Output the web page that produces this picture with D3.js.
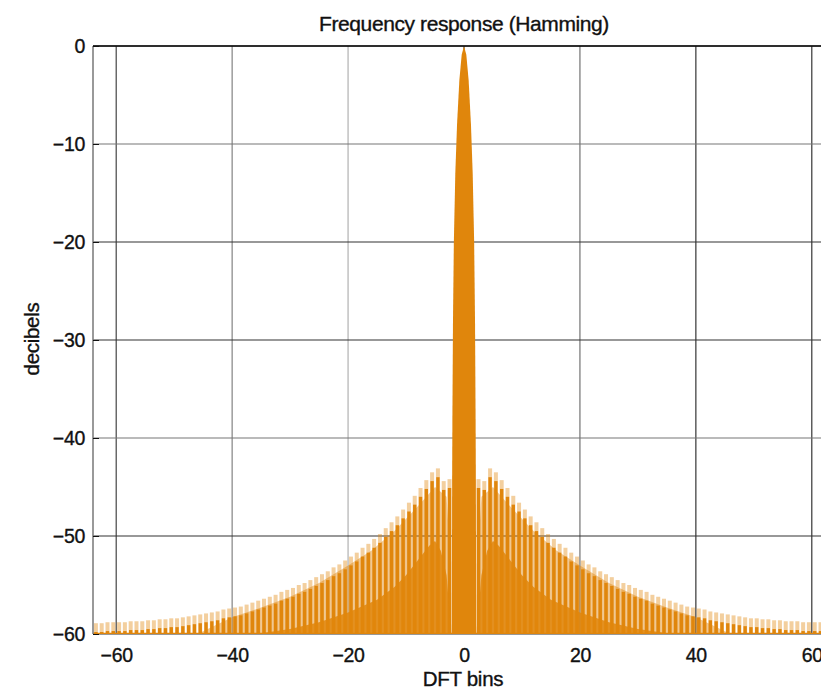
<!DOCTYPE html>
<html><head><meta charset="utf-8">
<script src="https://cdn.jsdelivr.net/npm/d3@7"></script>
<style>body{margin:0;background:#fff} text{font-family:"Liberation Sans",Arial,sans-serif;fill:#111;stroke:#111;stroke-width:0.35px}</style>
</head><body><svg id="c" width="821" height="693"></svg>
<script>
// ---- data ----
const xTicks = [-60, -40, -20, 0, 20, 40, 60];
const yTicks = [0, -10, -20, -30, -40, -50, -60];
// main lobe, one side (mirrored for the other side)
const mainLobeBins = [0, 0.4, 0.8, 1.2, 1.5, 1.75, 1.9, 2.0, 2.05, 2.1];
const mainLobeDb   = [0, -0.9, -3.5, -8, -13, -20, -28, -38, -45, -60];
// side-lobe peaks, positive side (picture is symmetric)
const sidelobeBins = [2.5,3.5,4.5,5.5,6.5,7.5,8.5,9.5,10.5,11.5,12.5,13.5,14.5,15.5,16.5,17.5,18.5,19.5,20.5,21.5,22.5,23.5,24.5,25.5,26.5,27.5,28.5,29.5,30.5,31.5,32.5,33.5,34.5,35.5,36.5,37.5,38.5,39.5,40.5,41.5,42.5,43.5,44.5,45.5,46.5,47.5,48.5,49.5,50.5,51.5,52.5,53.5,54.5,55.5,56.5,57.5,58.5,59.5,60.5,61.5,62.5,63.5];
const sidelobePeakDb = [-44.2,-44.4,-43.1,-43.5,-44.3,-45.1,-45.9,-46.6,-47.3,-48.0,-48.6,-49.2,-49.8,-50.3,-50.8,-51.2,-51.7,-52.1,-52.5,-52.9,-53.2,-53.6,-53.9,-54.2,-54.5,-54.8,-55.0,-55.3,-55.5,-55.7,-56.0,-56.2,-56.4,-56.6,-56.8,-57.0,-57.2,-57.3,-57.4,-57.5,-57.7,-57.8,-57.9,-58.0,-58.1,-58.2,-58.3,-58.4,-58.4,-58.5,-58.5,-58.6,-58.6,-58.7,-58.7,-58.7,-58.8,-58.8,-58.8,-58.8,-58.9,-58.9];
// solid lower envelope between the side lobes, positive side
const lowerEnvBins = [2.2, 2.6, 3, 4, 5, 6, 8, 10, 12, 15, 20, 25, 30, 36];
const lowerEnvDb   = [-60, -57, -54, -51.5, -50.5, -51, -52.5, -54, -55.2, -56.5, -57.8, -58.8, -59.5, -60];
// pale fill between the side lobes, positive side
const paleEnvBins = [2.2, 2.6, 3, 5, 8, 12, 16, 20, 25, 30, 35, 40, 46];
const paleEnvDb   = [-60, -50, -46, -45, -47, -49.5, -51.5, -53, -54.8, -56.2, -57.3, -58.3, -60];

// ---- layout ----
const svg = d3.select("#c");
const x = d3.scaleLinear().domain([-64, 64]).range([93, 835]);
const y = d3.scaleLinear().domain([-60, 0]).range([634, 46]);
const orange = "#e0860c";
const minus = v => (v < 0 ? "\u2212" + Math.abs(v) : String(v));

svg.append("defs").append("clipPath").attr("id", "plot")
  .append("rect").attr("x", 93).attr("y", 46).attr("width", 742).attr("height", 588);

// grid (shades mimic the reference's rendering)
const gxShade = {"-60": "#333", "-40": "#777", "-20": "#aaa", "0": "#333", "20": "#666", "40": "#222", "60": "#222"};
const gyShade = {"0": "#111", "-10": "#777", "-20": "#333", "-30": "#333", "-40": "#777", "-50": "#333", "-60": "#333"};
const grid = svg.append("g").attr("stroke-width", 1.1);
grid.selectAll(".gx").data(xTicks).join("line")
  .attr("stroke", d => gxShade[d])
  .attr("x1", d => x(d)).attr("x2", d => x(d)).attr("y1", 46).attr("y2", 634);
grid.selectAll(".gy").data(yTicks).join("line")
  .attr("stroke", d => gyShade[d])
  .attr("x1", 93).attr("x2", 835).attr("y1", d => y(d)).attr("y2", d => y(d));

const plot = svg.append("g").attr("clip-path", "url(#plot)");

function mirrored(bins, vals) {
  const pts = bins.map((b, i) => [b, vals[i]]);
  const left = pts.map(p => [-p[0], p[1]]).reverse();
  return { left, right: pts };
}
const area = d3.area().x(d => x(d[0])).y0(y(-60)).y1(d => y(d[1]));

// pale fill
const pale = mirrored(paleEnvBins, paleEnvDb);
[pale.left, pale.right].forEach(p =>
  plot.append("path").datum(p).attr("d", area).attr("fill", orange).attr("fill-opacity", 0.45));

// side-lobe bars
const bars = [];
sidelobeBins.forEach((b, i) => { bars.push([b, sidelobePeakDb[i]]); bars.push([-b, sidelobePeakDb[i]]); });
const bw = 3.4;
plot.selectAll(".cap").data(bars).join("rect")
  .attr("x", d => x(d[0]) - bw / 2 - 0.3).attr("width", bw + 0.6)
  .attr("y", d => y(d[1])).attr("height", d => y(-60) - y(d[1]))
  .attr("fill", orange).attr("fill-opacity", 0.4);
plot.selectAll(".bar").data(bars).join("rect")
  .attr("x", d => x(d[0]) - bw / 2).attr("width", bw)
  .attr("y", d => y(d[1] - 0.9)).attr("height", d => y(-60) - y(d[1] - 0.9))
  .attr("fill", orange);

// lower solid envelope
const low = mirrored(lowerEnvBins, lowerEnvDb);
[low.left, low.right].forEach(p =>
  plot.append("path").datum(p).attr("d", area).attr("fill", orange).attr("fill-opacity", 0.85));

// main lobe
const ml = mirrored(mainLobeBins, mainLobeDb);
const mlPts = ml.left.concat(ml.right.slice(1));
plot.append("path").datum(mlPts).attr("d", area).attr("fill", orange);

// baseline
plot.append("line").attr("x1", 93).attr("x2", 835).attr("y1", y(-60)).attr("y2", y(-60))
  .attr("stroke", orange).attr("stroke-width", 2.5);

// frame: top and left axis lines
svg.append("line").attr("x1", 93).attr("x2", 835).attr("y1", 46).attr("y2", 46)
  .attr("stroke", "#111").attr("stroke-width", 1.5);
svg.append("line").attr("x1", 93).attr("x2", 93).attr("y1", 46).attr("y2", 634)
  .attr("stroke", "#777").attr("stroke-width", 1.5);

// axes
const yAxis = d3.axisLeft(y).tickValues(yTicks).tickSize(-6).tickPadding(8).tickFormat(minus);
const gy = svg.append("g").attr("transform", "translate(93,0)").call(yAxis);
gy.select(".domain").remove();
gy.selectAll("line").attr("stroke", "#111");
gy.selectAll("text").attr("font-size", 19.5).attr("letter-spacing", -0.3).style("fill", "#111");

const xAxis = d3.axisBottom(x).tickValues(xTicks).tickSize(0).tickPadding(14).tickFormat(minus);
const gx = svg.append("g").attr("transform", "translate(0,634)").call(xAxis);
gx.select(".domain").remove();
gx.selectAll("text").attr("font-size", 19.5).attr("letter-spacing", -0.3).style("fill", "#111");

// titles
svg.append("text").attr("x", 464).attr("y", 31).attr("text-anchor", "middle")
  .attr("font-size", 21).attr("letter-spacing", -0.4).text("Frequency response (Hamming)");
svg.append("text").attr("x", 463).attr("y", 686).attr("text-anchor", "middle")
  .attr("font-size", 20.5).attr("letter-spacing", -0.3).text("DFT bins");
svg.append("text").attr("transform", "translate(39,339) rotate(-90)").attr("text-anchor", "middle")
  .attr("font-size", 20.5).attr("letter-spacing", -0.3).text("decibels");
</script></body></html>
